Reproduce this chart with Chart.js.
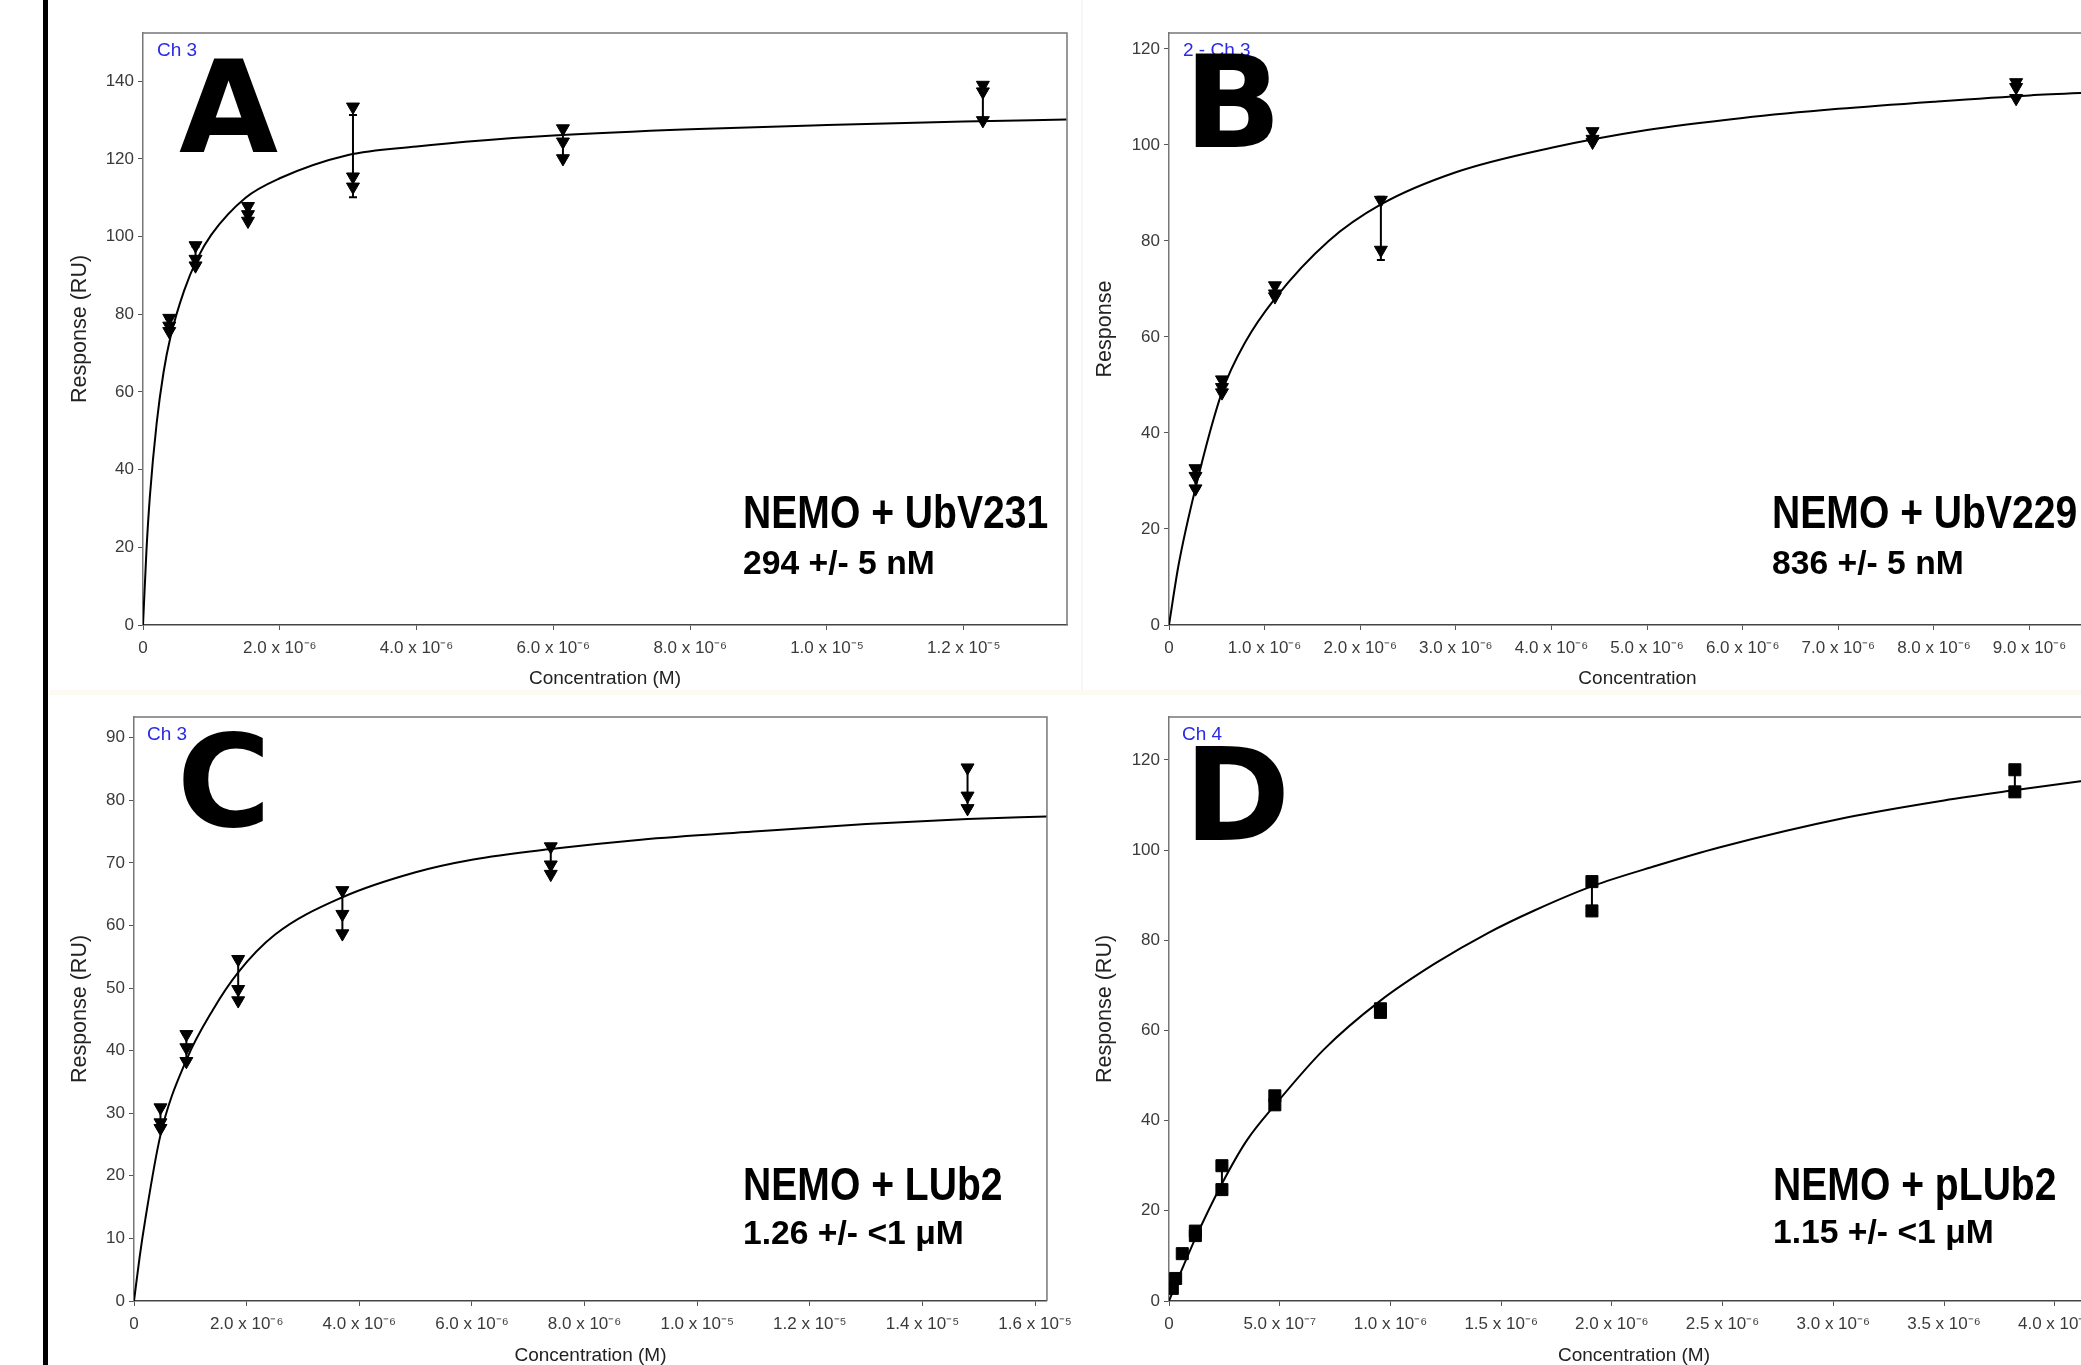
<!DOCTYPE html>
<html>
<head>
<meta charset="utf-8">
<script src="https://cdn.jsdelivr.net/npm/chart.js@4.4.0/dist/chart.umd.min.js"></script>
<style>
    html, body { margin: 0; padding: 0; background: #fff; }
    body { width: 2081px; height: 1365px; overflow: hidden; position: relative; }
    canvas { position: absolute; }
    #bar { position: absolute; left: 43px; top: 0; width: 5px; height: 1365px; background: #000; }
    #sepH { position: absolute; left: 50px; top: 690px; width: 2031px; height: 5px; background: #fcfaf3; }
    #sepV { position: absolute; left: 1081px; top: 0; width: 2px; height: 690px; background: #f7f7f7; }
</style>
</head>
<body>
<div id="bar"></div>
<div id="sepH"></div>
<div id="sepV"></div>
<canvas id="chartA" width="1030" height="690" style="left:50px;top:0px"></canvas>
<canvas id="chartB" width="1050" height="690" style="left:1080px;top:0px"></canvas>
<canvas id="chartC" width="1030" height="675" style="left:50px;top:690px"></canvas>
<canvas id="chartD" width="1050" height="675" style="left:1080px;top:690px"></canvas>
<script>
// ---- A: NEMO + UbV231 ----
const ptXA = [3.84e-7, 3.84e-7, 3.84e-7, 7.68e-7, 7.68e-7, 7.68e-7, 1.535e-6, 1.535e-6, 1.535e-6,
              3.07e-6, 3.07e-6, 3.07e-6, 6.14e-6, 6.14e-6, 6.14e-6, 1.228e-5, 1.228e-5, 1.228e-5];
const ptYA = [79, 77, 75.6, 97.7, 94.2, 92.5, 107.8, 105.7, 104, 133.4, 115.4, 112.8, 127.8, 124.4, 120.1, 139, 137.3, 129.9];
const errXA = [3.84e-7, 7.68e-7, 1.535e-6, 3.07e-6, 6.14e-6, 1.228e-5];
const errLoA = [75.8, 92.6, 104.2, 110.1, 120.6, 130.4];
const errHiA = [78.8, 97.4, 107.8, 131.3, 128, 139.2];
const curveXA = [0, 5e-8, 1e-7, 2e-7, 3e-7, 4e-7, 6e-7, 8e-7, 1e-6, 1.5e-6, 2e-6, 3e-6, 4e-6, 5e-6, 6e-6, 8e-6, 1e-5, 1.2e-5, 1.35e-5];
const curveYA = [0, 19, 33, 52, 65, 74, 86, 94.5, 100.5, 110, 115, 121, 123.2, 124.8, 126, 127.6, 128.7, 129.6, 130.1];
const xTicksA = [0, 2e-6, 4e-6, 6e-6, 8e-6, 1e-5, 1.2e-5];
const xLabelsA = ['0', '2.0 x 10⁻⁶', '4.0 x 10⁻⁶', '6.0 x 10⁻⁶', '8.0 x 10⁻⁶', '1.0 x 10⁻⁵', '1.2 x 10⁻⁵'];
const yTicksA = [0, 20, 40, 60, 80, 100, 120, 140];

// ---- B: NEMO + UbV229 ----
const ptXB = [2.77e-7, 2.77e-7, 2.77e-7, 5.54e-7, 5.54e-7, 5.54e-7, 1.108e-6, 1.108e-6, 1.108e-6,
              2.216e-6, 2.216e-6, 4.43e-6, 4.43e-6, 4.43e-6, 8.86e-6, 8.86e-6, 8.86e-6];
const ptYB = [32.6, 31, 28.4, 51.1, 49.5, 48.4, 70.7, 69, 68.4, 88.5, 78.1, 102.8, 101.2, 100.6, 113, 112, 109.7];
const errXB = [2.77e-7, 5.54e-7, 1.108e-6, 2.216e-6, 4.43e-6, 8.86e-6];
const errLoB = [28.4, 48.4, 68.4, 76, 100.6, 109.7];
const errHiB = [32.6, 51.1, 70.7, 89.2, 102.8, 113];
const curveXB = [0, 1e-7, 2.77e-7, 5.54e-7, 8e-7, 1.108e-6, 1.67e-6, 2.216e-6, 3e-6, 4e-6, 5e-6, 6e-6, 7e-6, 8e-6, 9e-6, 9.8e-6];
const curveYB = [0, 12.5, 28.5, 48.5, 59, 68, 80, 87.6, 94.3, 99.4, 103.1, 105.6, 107.5, 109, 110.3, 111];
const xTicksB = [0, 1e-6, 2e-6, 3e-6, 4e-6, 5e-6, 6e-6, 7e-6, 8e-6, 9e-6];
const xLabelsB = ['0', '1.0 x 10⁻⁶', '2.0 x 10⁻⁶', '3.0 x 10⁻⁶', '4.0 x 10⁻⁶', '5.0 x 10⁻⁶', '6.0 x 10⁻⁶', '7.0 x 10⁻⁶', '8.0 x 10⁻⁶', '9.0 x 10⁻⁶'];
const yTicksB = [0, 20, 40, 60, 80, 100, 120];

// ---- C: NEMO + LUb2 ----
const ptXC = [4.7e-7, 4.7e-7, 4.7e-7, 9.3e-7, 9.3e-7, 9.3e-7, 1.85e-6, 1.85e-6, 1.85e-6,
              3.7e-6, 3.7e-6, 3.7e-6, 7.4e-6, 7.4e-6, 7.4e-6, 1.48e-5, 1.48e-5, 1.48e-5];
const ptYC = [30.9, 28.5, 27.6, 42.6, 40.5, 38.3, 54.6, 49.8, 48, 65.6, 61.8, 58.7, 72.6, 69.7, 68.2, 85.2, 80.7, 78.7];
const errXC = [4.7e-7, 9.3e-7, 1.85e-6, 3.7e-6, 7.4e-6, 1.48e-5];
const errLoC = [27.6, 38.3, 48, 58.7, 68.2, 78.7];
const errHiC = [30.9, 42.6, 54.6, 65.6, 72.6, 85.2];
const curveXC = [0, 1e-7, 2e-7, 4.7e-7, 9.3e-7, 1.4e-6, 1.85e-6, 2.5e-6, 3.7e-6, 5e-6, 6e-6, 7.4e-6, 9e-6, 1.1e-5, 1.3e-5, 1.48e-5, 1.62e-5];
const curveYC = [0, 7, 13, 26.5, 38.5, 46.5, 52.5, 58.5, 64.5, 68.5, 70.5, 72.2, 73.7, 75, 76.2, 77, 77.4];
const xTicksC = [0, 2e-6, 4e-6, 6e-6, 8e-6, 1e-5, 1.2e-5, 1.4e-5, 1.6e-5];
const xLabelsC = ['0', '2.0 x 10⁻⁶', '4.0 x 10⁻⁶', '6.0 x 10⁻⁶', '8.0 x 10⁻⁶', '1.0 x 10⁻⁵', '1.2 x 10⁻⁵', '1.4 x 10⁻⁵', '1.6 x 10⁻⁵'];
const yTicksC = [0, 10, 20, 30, 40, 50, 60, 70, 80, 90];

// ---- D: NEMO + pLUb2 ----
const ptXD = [1.5e-8, 3e-8, 6e-8, 1.19e-7, 1.19e-7, 2.39e-7, 2.39e-7, 4.78e-7, 4.78e-7,
              9.55e-7, 9.55e-7, 1.91e-6, 1.91e-6, 3.82e-6, 3.82e-6];
const ptYD = [2.8, 5, 10.5, 15.5, 14.5, 30, 24.7, 45.5, 43.5, 64.8, 64, 93, 86.5, 117.8, 112.9];
const errXD = [2.39e-7, 4.78e-7, 1.91e-6, 3.82e-6];
const errLoD = [24.7, 43.5, 86.5, 112.9];
const errHiD = [30, 45.5, 93, 117.8];
const curveXD = [0, 5e-8, 1.2e-7, 2.39e-7, 3.5e-7, 4.79e-7, 7e-7, 9.52e-7, 1.2e-6, 1.44e-6, 1.65e-6, 1.912e-6, 2.2e-6, 2.48e-6, 3.06e-6, 3.5e-6, 3.824e-6, 4.2e-6];
const curveYD = [0, 6, 14, 26, 35.5, 43.5, 55.8, 66.5, 74.8, 81.6, 86.6, 92, 96.5, 100.5, 107.2, 111, 113.3, 115.8];
const xTicksD = [0, 5e-7, 1e-6, 1.5e-6, 2e-6, 2.5e-6, 3e-6, 3.5e-6, 4e-6];
const xLabelsD = ['0', '5.0 x 10⁻⁷', '1.0 x 10⁻⁶', '1.5 x 10⁻⁶', '2.0 x 10⁻⁶', '2.5 x 10⁻⁶', '3.0 x 10⁻⁶', '3.5 x 10⁻⁶', '4.0 x 10⁻⁶'];
const yTicksD = [0, 20, 40, 60, 80, 100, 120];

const TEXT_FONT = "'Liberation Sans', Arial, sans-serif";

// error bars, plot frame and the text placed inside each plot
const panelDecor = {
    id: 'panelDecor',
    beforeDatasetsDraw(chart, args, opts) {
        const { ctx, chartArea: a, scales: { x, y } } = chart;
        ctx.save();
        ctx.strokeStyle = '#777';
        ctx.lineWidth = 1.5;
        ctx.beginPath();
        ctx.moveTo(a.left, a.top);
        ctx.lineTo(a.right, a.top);
        ctx.lineTo(a.right, a.bottom);
        ctx.stroke();

        ctx.strokeStyle = '#000';
        ctx.lineWidth = 2;
        opts.errX.forEach((v, i) => {
            const px = x.getPixelForValue(v);
            const lo = y.getPixelForValue(opts.errLo[i]);
            const hi = y.getPixelForValue(opts.errHi[i]);
            ctx.beginPath();
            ctx.moveTo(px, lo); ctx.lineTo(px, hi);
            ctx.moveTo(px - 4, lo); ctx.lineTo(px + 4, lo);
            ctx.moveTo(px - 4, hi); ctx.lineTo(px + 4, hi);
            ctx.stroke();
        });
        ctx.restore();
    },
    afterDraw(chart, args, opts) {
        const ctx = chart.ctx;
        opts.labels.forEach(t => {
            ctx.save();
            ctx.translate(t.x - opts.ox, t.y - opts.oy);
            ctx.scale(t.sx || 1, 1);
            ctx.font = t.font;
            ctx.fillStyle = t.color || '#000';
            ctx.textAlign = 'left';
            ctx.textBaseline = 'alphabetic';
            ctx.fillText(t.text, 0, 0);
            ctx.restore();
        });
    }
};

function makePanel(id, p) {
    const pts = p.ptX.map((v, i) => ({ x: v, y: p.ptY[i] }));
    const fit = p.curveX.map((v, i) => ({ x: v, y: p.curveY[i] }));

    new Chart(document.getElementById(id), {
        type: 'scatter',
        data: {
            datasets: [
                {
                    data: pts,
                    pointStyle: p.marker,
                    rotation: p.marker === 'triangle' ? 180 : 0,
                    radius: p.marker === 'triangle' ? 7.5 : 8.5,
                    backgroundColor: '#000',
                    borderColor: '#000',
                    borderWidth: 1
                },
                {
                    data: fit,
                    showLine: true,
                    pointRadius: 0,
                    borderColor: '#000',
                    borderWidth: 2,
                    cubicInterpolationMode: 'monotone'
                }
            ]
        },
        plugins: [panelDecor],
        options: {
            responsive: false,
            animation: false,
            devicePixelRatio: 1,
            layout: { padding: p.pad },
            plugins: {
                legend: { display: false },
                tooltip: { enabled: false },
                panelDecor: {
                    errX: p.errX, errLo: p.errLo, errHi: p.errHi,
                    ox: p.ox, oy: p.oy, labels: p.labels
                }
            },
            scales: {
                x: {
                    type: 'linear',
                    min: 0,
                    max: p.xMax,
                    afterBuildTicks: s => { s.ticks = p.xTicks.map(v => ({ value: v })); },
                    afterFit: s => { s.height = p.xAxisH; },
                    grid: { drawOnChartArea: false, drawTicks: true, tickLength: 5, color: '#555' },
                    border: { display: true, color: '#444', width: 1.5 },
                    ticks: {
                        autoSkip: false, maxRotation: 0, padding: 8, color: '#3a3a3a',
                        font: { family: TEXT_FONT, size: 17 },
                        callback: (v, i) => p.xLabels[i]
                    },
                    title: {
                        display: true, text: p.xTitle, color: '#222',
                        font: { family: TEXT_FONT, size: 19, lineHeight: 1 },
                        padding: { top: 0, bottom: p.xTitlePad }
                    }
                },
                y: {
                    type: 'linear',
                    min: 0,
                    max: p.yMax,
                    afterBuildTicks: s => { s.ticks = p.yTicks.map(v => ({ value: v })); },
                    afterFit: s => { s.width = p.yAxisW; },
                    grid: { drawOnChartArea: false, drawTicks: true, tickLength: 5, color: '#555' },
                    border: { display: true, color: '#777', width: 1.5 },
                    ticks: {
                        padding: 4, color: '#3a3a3a',
                        font: { family: TEXT_FONT, size: 17 }
                    },
                    title: {
                        display: true, text: p.yTitle, color: '#222',
                        font: { family: TEXT_FONT, size: 21.5, lineHeight: 1 },
                        padding: { top: p.yTitlePad, bottom: 0 }
                    }
                }
            }
        }
    });
}

function bigLetter(t, x, y) { return { text: t, x: x, y: y, font: "bold 128px 'DejaVu Sans'" }; }
function channel(t, x, y) { return { text: t, x: x, y: y, font: "19px " + TEXT_FONT, color: '#2a2ae6' }; }
function nameLine(t, x, y) { return { text: t, x: x, y: y, font: "bold 46px " + TEXT_FONT, sx: 0.85 }; }
function kdLine(t, x, y) { return { text: t, x: x, y: y, font: "bold 33px " + TEXT_FONT, sx: 1.02 }; }

makePanel('chartA', {
    ptX: ptXA, ptY: ptYA, errX: errXA, errLo: errLoA, errHi: errHiA,
    curveX: curveXA, curveY: curveYA, xTicks: xTicksA, xLabels: xLabelsA, yTicks: yTicksA,
    marker: 'triangle', xMax: 1.351e-5, yMax: 152.4,
    pad: { left: 0, top: 33, right: 13, bottom: 0 }, yAxisW: 93, xAxisH: 65,
    xTitle: 'Concentration (M)', yTitle: 'Response (RU)', xTitlePad: 2, yTitlePad: 19,
    ox: 50, oy: 0,
    labels: [channel('Ch 3', 157, 56), bigLetter('A', 179, 152),
             nameLine('NEMO + UbV231', 743, 528), kdLine('294 +/- 5 nM', 743, 574)]
});

makePanel('chartB', {
    ptX: ptXB, ptY: ptYB, errX: errXB, errLo: errLoB, errHi: errHiB,
    curveX: curveXB, curveY: curveYB, xTicks: xTicksB, xLabels: xLabelsB, yTicks: yTicksB,
    marker: 'triangle', xMax: 9.8e-6, yMax: 123.3,
    pad: { left: 0, top: 33, right: 24, bottom: 0 }, yAxisW: 89, xAxisH: 65,
    xTitle: 'Concentration', yTitle: 'Response', xTitlePad: 2, yTitlePad: 14,
    ox: 1080, oy: 0,
    labels: [channel('2 - Ch 3', 1183, 56), bigLetter('B', 1184, 147),
             nameLine('NEMO + UbV229', 1772, 528), kdLine('836 +/- 5 nM', 1772, 574)]
});

makePanel('chartC', {
    ptX: ptXC, ptY: ptYC, errX: errXC, errLo: errLoC, errHi: errHiC,
    curveX: curveXC, curveY: curveYC, xTicks: xTicksC, xLabels: xLabelsC, yTicks: yTicksC,
    marker: 'triangle', xMax: 1.621e-5, yMax: 93.3,
    pad: { left: 0, top: 27, right: 4, bottom: 0 }, yAxisW: 84, xAxisH: 64,
    xTitle: 'Concentration (M)', yTitle: 'Response (RU)', xTitlePad: 0, yTitlePad: 19,
    ox: 50, oy: 690,
    labels: [channel('Ch 3', 147, 740), bigLetter('C', 177, 826),
             nameLine('NEMO + LUb2', 743, 1200), kdLine('1.26 +/- <1 μM', 743, 1244)]
});

makePanel('chartD', {
    ptX: ptXD, ptY: ptYD, errX: errXD, errLo: errLoD, errHi: errHiD,
    curveX: curveXD, curveY: curveYD, xTicks: xTicksD, xLabels: xLabelsD, yTicks: yTicksD,
    marker: 'rect', xMax: 4.2e-6, yMax: 129.5,
    pad: { left: 0, top: 27, right: 31, bottom: 0 }, yAxisW: 89, xAxisH: 64,
    xTitle: 'Concentration (M)', yTitle: 'Response (RU)', xTitlePad: 0, yTitlePad: 14,
    ox: 1080, oy: 690,
    labels: [channel('Ch 4', 1182, 740), bigLetter('D', 1184, 840),
             nameLine('NEMO + pLUb2', 1773, 1200), kdLine('1.15 +/- <1 μM', 1773, 1243)]
});
</script>
</body>
</html>
